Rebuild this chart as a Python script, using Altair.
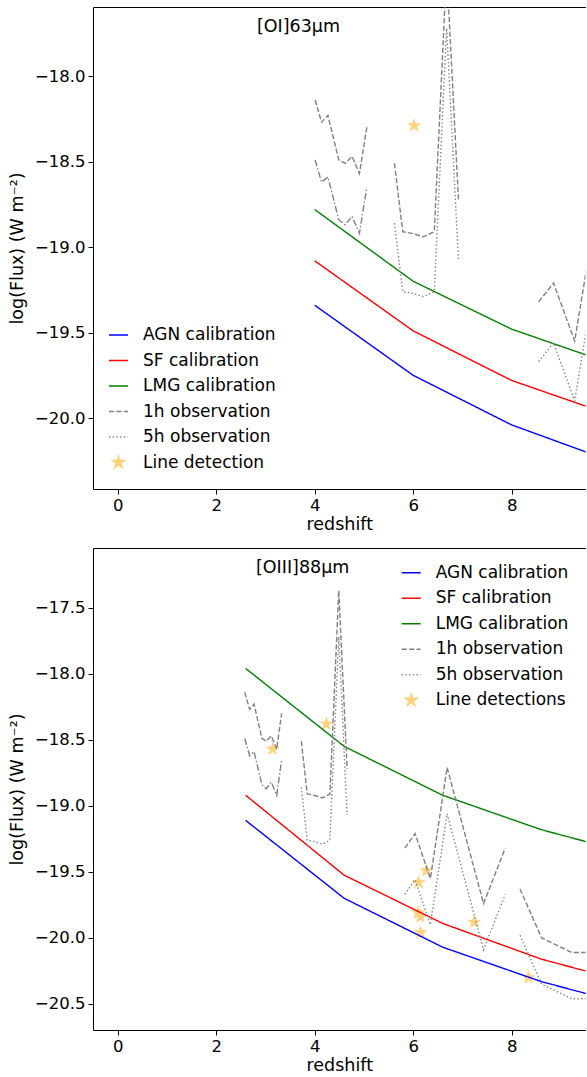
import altair as alt
import pandas as pd

FONT = "DejaVu Sans"

# ---------------- series names / styles ----------------
SERIES_TOP = ["AGN calibration", "SF calibration", "LMG calibration",
              "1h observation", "5h observation", "Line detection"]
SERIES_BOT = ["AGN calibration", "SF calibration", "LMG calibration",
              "1h observation", "5h observation", "Line detections"]
COLORS = ["#0000ff", "#ff0000", "#008000", "#808080", "#808080", "#ffd280"]
DASHES = [[1, 0], [1, 0], [1, 0], [5.2, 2.2], [1.4, 2.3], [1, 0]]
# five-pointed star drawn inside a +-0.69 box (so legend stars stay small)
STAR = ("M0,-0.69L0.155,-0.213L0.656,-0.213L0.25,0.081L0.406,0.558L0,0.264"
        "L-0.406,0.558L-0.25,0.081L-0.656,-0.213L-0.155,-0.213Z")

# ---------------- top panel: [OI]63um ----------------
top_cal_z = [4.0, 6.0, 8.0, 10.0]
top_agn = [-19.34, -19.75, -20.04, -20.25]
top_sf = [-19.08, -19.49, -19.78, -19.98]
top_lmg = [-18.78, -19.20, -19.48, -19.68]

top_obs1_z = [4.01, 4.14, 4.27, 4.49, 4.62, 4.76, 4.91, 5.06]
top_obs2_z = [5.62, 5.79, 5.98, 6.21, 6.43, 6.68, 6.92]
top_obs3_z = [8.55, 8.85, 9.28, 9.76]
top_obs3_1h = [-19.32, -19.21, -19.55, -18.71]
top_obs3_5h = [-19.67, -19.56, -19.90, -19.06]

top_star_z = [6.02]
top_star_f = [-18.29]

# sensitivity values shared by both bands (first two frequency windows)
obs1_1h = [-18.14, -18.27, -18.23, -18.49, -18.51, -18.47, -18.57, -18.30]
obs1_5h = [-18.49, -18.62, -18.59, -18.84, -18.87, -18.82, -18.92, -18.65]
obs2_1h = [-18.51, -18.91, -18.92, -18.94, -18.91, -17.37, -18.72]
obs2_5h = [-18.86, -19.26, -19.27, -19.29, -19.26, -17.72, -19.07]

# ---------------- bottom panel: [OIII]88um ----------------
bot_cal_z = [2.6, 4.6, 6.6, 8.6, 10.6]
bot_agn = [-19.11, -19.70, -20.07, -20.33, -20.53]
bot_sf = [-18.92, -19.525, -19.89, -20.16, -20.36]
bot_lmg = [-17.96, -18.55, -18.92, -19.18, -19.38]

bot_obs1_z = [2.58, 2.68, 2.77, 2.93, 3.02, 3.12, 3.23, 3.33]
bot_obs2_z = [3.73, 3.85, 3.99, 4.16, 4.31, 4.49, 4.66]
bot_obs3_z = [5.83, 6.04, 6.35, 6.69, 7.43, 7.87]
bot_obs3_1h = [-19.32, -19.21, -19.55, -18.71, -19.74, -19.32]
bot_obs3_5h = [-19.67, -19.56, -19.90, -19.06, -20.09, -19.67]
bot_obs4_z = [8.17, 8.61, 9.22, 10.0]
bot_obs4_1h = [-19.63, -20.00, -20.11, -20.11]
bot_obs4_5h = [-19.98, -20.35, -20.46, -20.46]

bot_star_z = [3.15, 4.24, 6.27, 6.11, 6.10, 6.15, 6.15, 7.24, 8.34]
bot_star_f = [-18.57, -18.38, -19.49, -19.58, -19.81, -19.84, -19.96, -19.88, -20.30]

X_DOMAIN = [-0.5, 9.5]
X_TICKS = [0, 2, 4, 6, 8]
PLOT_W = 492.5
PLOT_H = 482


def make_legend(lx, ly):
    return alt.Legend(title=None, orient="none", legendX=lx, legendY=ly, padding=0,
                      labelFont=FONT, labelFontSize=17, labelColor="black",
                      labelOffset=14, rowPadding=6.5, symbolSize=361,
                      symbolStrokeWidth=1.4, symbolOpacity=1)


def panel(names, label, label_z, label_f, ydom, yticks, cal_z, cals, obs, dd, star_z, star_f, lx, ly):
    rows = []
    for nm, ys in zip(names[:3], cals):
        for z, f in zip(cal_z, ys):
            rows.append({"z": z, "f": f, "series": nm, "seg": nm})
    for k, (zs, y1, y5) in enumerate(obs):
        for z, f in zip(zs, y1):
            rows.append({"z": z, "f": f, "series": names[3], "seg": f"1h-{k}"})
        if y5 is not None:
            for z, f in zip(zs, y5):
                rows.append({"z": z, "f": f, "series": names[4], "seg": f"5h-{k}"})
    lines = pd.DataFrame(rows)
    dd_df = pd.DataFrame({"z": dd[0], "f": dd[1]})
    stars = pd.DataFrame({"z": star_z, "f": star_f, "series": names[5]})
    lab = pd.DataFrame({"z": [label_z], "f": [label_f], "t": [label]})

    xs = alt.Scale(domain=X_DOMAIN, nice=False, zero=False)
    ys = alt.Scale(domain=ydom, nice=False, zero=False)
    x_main = alt.X("z:Q", scale=xs,
                   axis=alt.Axis(values=X_TICKS, format="d", title="redshift", labelFlush=False,
                                 titlePadding=2, labelPadding=3))
    x_top = alt.X("z:Q", scale=xs,
                  axis=alt.Axis(orient="top", labels=False, ticks=False, title=None, domain=True))
    x_none = alt.X("z:Q", scale=xs, axis=None)
    y_axis = alt.Axis(values=yticks, format=".1f", title="log(Flux) (W m⁻²)",
                      labelFlush=False, labelOverlap=False, titlePadding=8, labelPadding=3)
    y_main = alt.Y("f:Q", scale=ys, axis=y_axis)
    leg = make_legend(lx, ly)
    cscale = alt.Scale(domain=names, range=COLORS)

    star_layer = alt.Chart(stars).mark_point(filled=True, opacity=1, size=500, clip=True).encode(
        x=x_none, y=y_main,
        color=alt.Color("series:N", scale=cscale, legend=leg),
        shape=alt.Shape("series:N", scale=alt.Scale(domain=names, range=["stroke"] * 5 + [STAR]), legend=leg),
    )
    line_layer = alt.Chart(lines).mark_line(clip=True, strokeWidth=1.4).encode(
        x=x_main, y=y_main,
        color=alt.Color("series:N", scale=cscale, legend=leg),
        strokeDash=alt.StrokeDash("series:N", scale=alt.Scale(domain=names, range=DASHES), legend=leg),
        detail="seg:N",
    )
    dd_layer = alt.Chart(dd_df).mark_line(clip=True, strokeWidth=1.4, color="#808080",
                                          strokeDash=[6.5, 2.2, 1.4, 2.2]).encode(x=x_none, y=y_main)
    text_layer = alt.Chart(lab).mark_text(align="left", baseline="middle", font=FONT,
                                          fontSize=17.5, color="black").encode(x=x_top, y=y_main, text="t:N")
    return alt.layer(star_layer, line_layer, dd_layer, text_layer).resolve_axis(
        x="independent").properties(width=PLOT_W, height=PLOT_H)


top = panel(SERIES_TOP, "[OI]63μm", 2.83, -17.713, [-20.415, -17.596],
            [-20.0, -19.5, -19.0, -18.5, -18.0],
            top_cal_z, [top_agn, top_sf, top_lmg],
            [(top_obs1_z, obs1_1h, None), (top_obs2_z, obs2_1h, obs2_5h), (top_obs3_z, top_obs3_1h, top_obs3_5h)],
            (top_obs1_z, obs1_5h), top_star_z, top_star_f, 15, 317.5)

bot = panel(SERIES_BOT, "[OIII]88μm", 2.81, -17.20, [-20.697, -17.048],
            [-20.5, -20.0, -19.5, -19.0, -18.5, -18.0, -17.5],
            bot_cal_z, [bot_agn, bot_sf, bot_lmg],
            [(bot_obs1_z, obs1_1h, None), (bot_obs2_z, obs2_1h, obs2_5h),
             (bot_obs3_z, bot_obs3_1h, bot_obs3_5h), (bot_obs4_z, bot_obs4_1h, bot_obs4_5h)],
            (bot_obs1_z, obs1_5h), bot_star_z, bot_star_f, 307.7, 14.2)

chart = alt.vconcat(top, bot, spacing=59, bounds="flush").resolve_scale(
    color="independent", strokeDash="independent", shape="independent"
).resolve_legend(color="independent", strokeDash="independent", shape="independent").properties(
    padding={"left": 8, "top": 7, "right": 0, "bottom": 5}
).configure_view(strokeWidth=0).configure_axis(
    grid=False, domainColor="black", tickColor="black", labelColor="black", titleColor="black",
    labelFont=FONT, titleFont=FONT, labelFontSize=16.5, titleFontSize=17.5,
    titleFontWeight="normal", tickSize=5, domainWidth=1, tickWidth=1
)

chart.save("out.html", embed_options={"renderer": "svg", "actions": False})
